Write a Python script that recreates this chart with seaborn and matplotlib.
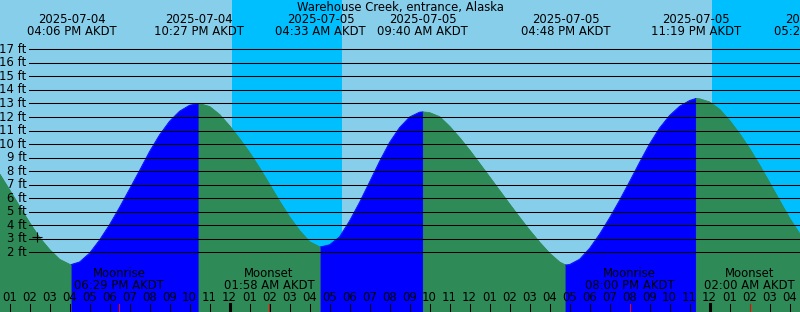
import numpy as np
import pandas as pd
import matplotlib
matplotlib.use("Agg")
import matplotlib.pyplot as plt
import matplotlib.transforms as mtransforms
import seaborn as sns

# ---------------- data ----------------
station_name = "Warehouse Creek, entrance, Alaska"
zone = "AKDT"
reference_midnight = "2025-07-05 00:00"

# half-hourly water level (ft) from 2025-07-04 12:30 to 2025-07-06 05:00
sample_times = pd.date_range("2025-07-04 12:30", "2025-07-06 05:00", freq="30min")
sample_levels = [
    7.80, 6.62, 5.40, 4.20, 3.10, 2.22, 1.50, 1.13,          # 12:30 .. 16:00 Jul 4
    1.30, 1.95, 2.92, 4.05, 5.33, 6.68, 8.05, 9.45,          # 16:30 .. 20:00
    10.68, 11.69, 12.43, 12.87, 13.00, 12.78, 12.19, 11.35,  # 20:30 .. 00:00 Jul 5
    10.40, 9.38, 8.24, 7.02, 5.78, 4.62, 3.62, 2.80,         # 00:30 .. 04:00
    2.42, 2.57, 3.15, 4.33, 5.70, 7.20, 8.72, 10.12,         # 04:30 .. 08:00
    11.22, 12.00, 12.36, 12.33, 12.03, 11.32, 10.48, 9.56,   # 08:30 .. 12:00
    8.58, 7.58, 6.58, 5.58, 4.60, 3.65, 2.76, 1.95,          # 12:30 .. 16:00
    1.30, 1.11, 1.50, 2.30, 3.35, 4.55, 5.85, 7.23,          # 16:30 .. 20:00
    8.65, 10.01, 11.19, 12.11, 12.79, 13.22, 13.35, 13.12,   # 20:30 .. 00:00 Jul 6
    12.57, 11.75, 10.77, 9.67, 8.45, 7.15, 5.83, 4.53,       # 00:30 .. 04:00
    3.39, 2.90,                                              # 04:30 .. 05:00
]

extreme_times = ["2025-07-04 16:06", "2025-07-04 22:27", "2025-07-05 04:33",
                 "2025-07-05 09:40", "2025-07-05 16:48", "2025-07-05 23:19",
                 "2025-07-06 05:29"]
extreme_levels = [1.12, 13.00, 2.41, 12.38, 1.08, 13.37, 2.75]

night_starts = ["2025-07-05 00:07", "2025-07-06 00:07"]
night_ends = ["2025-07-05 05:37", "2025-07-06 05:37"]

moon_times = ["2025-07-04 18:29", "2025-07-05 01:58",
              "2025-07-05 20:00", "2025-07-06 02:00"]
moon_events = ["Moonrise", "Moonset", "Moonrise", "Moonset"]

grid_feet = list(range(2, 18))

now_time = "2025-07-04 14:23"
now_level = 3.15

hour_ticks = pd.date_range("2025-07-04 13:00", "2025-07-06 04:00", freq="1h")

# ---------------- style ----------------
DAY = "#87CEEB"
NIGHT = "#00BFFF"
FLOOD = "#0000FF"
EBB = "#2E8B57"
FS = 8.4
W, H = 800, 312
XMIN, XMAX = -11.475, 28.525
YMIN, YMAX = -2.393, 20.64

ref = pd.Timestamp(reference_midnight)


def hours(ts):
    return (pd.to_datetime(pd.Series(ts)) - ref) / pd.Timedelta(hours=1)


assert len(sample_levels) == len(sample_times)

curve = pd.concat([
    pd.DataFrame({"time": sample_times, "level": sample_levels}),
    pd.DataFrame({"time": pd.to_datetime(extreme_times), "level": extreme_levels}),
]).drop_duplicates("time").sort_values("time").reset_index(drop=True)
curve["t"] = hours(curve["time"]).values

ext_t = hours(extreme_times).values
bounds = sorted(set([curve["t"].iloc[0]] + list(ext_t) + [curve["t"].iloc[-1]]))

fig = plt.figure(figsize=(W / 100, H / 100), dpi=100)
fig.patch.set_facecolor(DAY)
ax = fig.add_axes([0, 0, 1, 1])
ax.set_facecolor(DAY)
ax.set_xlim(XMIN, XMAX)
ax.set_ylim(YMIN, YMAX)
ax.set_xticks([])
ax.set_yticks([])
for s in ax.spines.values():
    s.set_visible(False)

# night shading of the sky
for a, b in zip(hours(night_starts), hours(night_ends)):
    ax.axvspan(a, b, color=NIGHT, lw=0, zorder=0)

# tide fill: blue while rising, green while falling
rows = []
for i in range(len(bounds) - 1):
    a, b = bounds[i], bounds[i + 1]
    seg = curve[(curve["t"] >= a - 1e-9) & (curve["t"] <= b + 1e-9)]
    if len(seg) < 2:
        continue
    rising = seg["level"].iloc[-1] > seg["level"].iloc[0]
    col = FLOOD if rising else EBB
    ax.fill_between(seg["t"], seg["level"], YMIN, color=col, lw=0.6,
                    edgecolor=col, zorder=1)
    r = seg[["t", "level"]].copy()
    r["segment"] = i
    r["phase"] = "flood" if rising else "ebb"
    rows.append(r)
segs = pd.concat(rows)
sns.lineplot(data=segs, x="t", y="level", hue="phase", units="segment",
             estimator=None, palette={"flood": FLOOD, "ebb": EBB},
             legend=False, linewidth=0.6, ax=ax, zorder=2)
ax.set_xlabel("")
ax.set_ylabel("")

# grid lines and level labels
ylab_tr = mtransforms.blended_transform_factory(ax.transAxes, ax.transData)
for ft in grid_feet:
    ax.axhline(ft, xmin=29.3 / W, xmax=1, color="black", lw=0.75, zorder=3)
    ax.text(26.5 / W, ft, f"{ft} ft", transform=ylab_tr, ha="right",
            va="center", fontsize=FS, color="black", zorder=4)

# current-time marker
sns.scatterplot(x=hours([now_time]).values, y=[now_level], marker="+", s=55,
                color="black", linewidth=0.8, ax=ax, zorder=5, legend=False)

# texts positioned with x in data, y in pixels from top
xpx = mtransforms.blended_transform_factory(ax.transData, ax.transAxes)


def ypix(p):
    return 1 - p / H


ax.text(0.5, ypix(7.3), station_name, transform=ax.transAxes, ha="center",
        va="center", fontsize=FS, color="black", zorder=4)
for tt, ts in zip(ext_t, pd.to_datetime(extreme_times)):
    ax.text(tt, ypix(19.5), ts.strftime("%Y-%m-%d"), transform=xpx,
            ha="center", va="center", fontsize=FS, zorder=4, clip_on=False)
    ax.text(tt, ypix(31.7), ts.strftime("%I:%M %p ") + zone, transform=xpx,
            ha="center", va="center", fontsize=FS, zorder=4, clip_on=False)

# moon events
moon_t = hours(moon_times).values
for tt, ts, ev in zip(moon_t, pd.to_datetime(moon_times), moon_events):
    ax.text(tt, ypix(273.5), ev, transform=xpx, ha="center", va="center",
            fontsize=FS, zorder=4)
    ax.text(tt, ypix(285.5), ts.strftime("%I:%M %p ") + zone, transform=xpx,
            ha="center", va="center", fontsize=FS, zorder=4)

# hour ticks and labels
hour_t = hours(hour_ticks).values
for tt, ts in zip(hour_t, hour_ticks):
    midnight = ts.hour == 0
    ax.axvline(tt, ymin=0, ymax=8 / H, color="black",
               lw=2.2 if midnight else 0.75, zorder=4)
    ax.text(tt, ypix(297.7), ts.strftime("%I"), transform=xpx, ha="center",
            va="center", fontsize=FS, zorder=4)
for tt in moon_t:
    ax.axvline(tt, ymin=0, ymax=8 / H, color="red", lw=0.75, zorder=5)

fig.savefig("out.png", dpi=100, facecolor=DAY)
